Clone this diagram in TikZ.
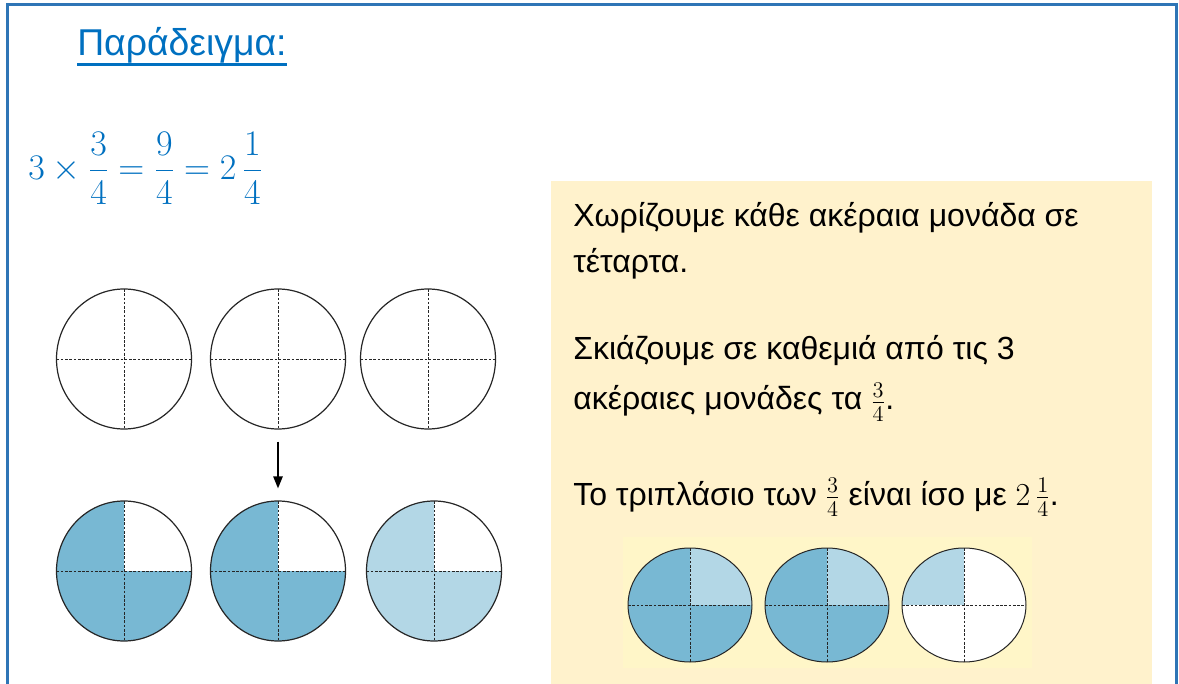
\RequirePackage{fix-cm}
\documentclass[tikz,border=0pt]{standalone}
\usepackage{fontspec}
\setmainfont{Liberation Sans}
\usetikzlibrary{positioning, arrows.meta, shapes.geometric}
\definecolor{frameblue}{RGB}{46,117,182}
\definecolor{titleblue}{RGB}{0,112,192}
\definecolor{darkpart}{RGB}{120,184,211}
\definecolor{lightpart}{RGB}{179,215,230}
\definecolor{notebg}{RGB}{255,242,204}
\definecolor{stripbg}{RGB}{255,246,200}

\begin{document}
\begin{tikzpicture}[x=0.75pt, y=-0.75pt,
    quarters/.style n args={4}{ellipse, draw=black!85, line width=0.9pt, inner sep=0pt,
        path picture={
            \fill[#1] (path picture bounding box.north west) rectangle (path picture bounding box.center);
            \fill[#2] (path picture bounding box.north east) rectangle (path picture bounding box.center);
            \fill[#3] (path picture bounding box.south west) rectangle (path picture bounding box.center);
            \fill[#4] (path picture bounding box.south east) rectangle (path picture bounding box.center);
            \draw[dash pattern=on 2pt off 1.2pt, line width=0.6pt] (path picture bounding box.north) -- (path picture bounding box.south);
            \draw[dash pattern=on 2pt off 1.2pt, line width=0.6pt] (path picture bounding box.west) -- (path picture bounding box.east);
        }},
    big/.style={minimum width=101.25pt, minimum height=105pt},
    small/.style={minimum width=93pt, minimum height=85.5pt, line width=0.75pt},
    txt/.style={anchor=base west, inner sep=0pt, font=\fontsize{24}{28}\selectfont},
    arr/.style={-{Triangle[length=9pt, width=7pt]}, line width=1.2pt}
]
\useasboundingbox (0,0) rectangle (1179,684);
\clip (0,0) rectangle (1179,684);

% frame and note box
\draw[frameblue, line width=2.25pt] (7.5,5) rectangle (1176.5,720);
\fill[notebg] (551,181) rectangle (1152,720);
\fill[stripbg] (623,537) rectangle (1032,668);

% title and formula
\node[anchor=base west, inner sep=0pt, text=titleblue, font=\fontsize{28}{32}\selectfont] (title) at (77,56) {Παράδειγμα:};
\draw[titleblue, line width=2.2pt] ([yshift=-6.4pt]title.base west) -- ([yshift=-6.4pt]title.base east);
\node[anchor=west, inner sep=0pt, text=titleblue, font=\fontsize{27}{31}\selectfont] (eq) at (28,168)
    {$\displaystyle 3\times\frac{3}{4}=\frac{9}{4}=2\,\frac{1}{4}$};

% wholes split in quarters
\node[quarters={white}{white}{white}{white}, big] (t1) at (124,359) {};
\node[quarters={white}{white}{white}{white}, big] (t2) at (278,359) {};
\node[quarters={white}{white}{white}{white}, big] (t3) at (428,359) {};
\node[quarters={darkpart}{white}{darkpart}{darkpart}, big] (b1) at (124,571) {};
\node[quarters={darkpart}{white}{darkpart}{darkpart}, big] (b2) at (278,571) {};
\node[quarters={lightpart}{white}{lightpart}{lightpart}, big] (b3) at (434,571) {};
\draw[arr, shorten <=9pt, shorten >=9pt] (t2) -- (b2);

% explanation
\node[txt] (l1) at (573,227) {Χωρίζουμε κάθε ακέραια μονάδα σε};
\node[txt] (l2) at (573,273) {τέταρτα.};
\node[txt] (l3) at (573,360) {Σκιάζουμε σε καθεμιά από τις 3};
\node[txt] (l4) at (573,410) {ακέραιες μονάδες τα $\frac{3}{4}$.};
\node[txt] (l5) at (573,505) {Το τριπλάσιο των $\frac{3}{4}$ είναι ίσο με $2\,\frac{1}{4}$.};

% regrouped quarters
\node[quarters={darkpart}{lightpart}{darkpart}{darkpart}, small] (s1) at (690,605) {};
\node[quarters={darkpart}{lightpart}{darkpart}{darkpart}, small] (s2) at (827,605) {};
\node[quarters={lightpart}{white}{white}{white}, small] (s3) at (964,605) {};
\end{tikzpicture}
\end{document}
